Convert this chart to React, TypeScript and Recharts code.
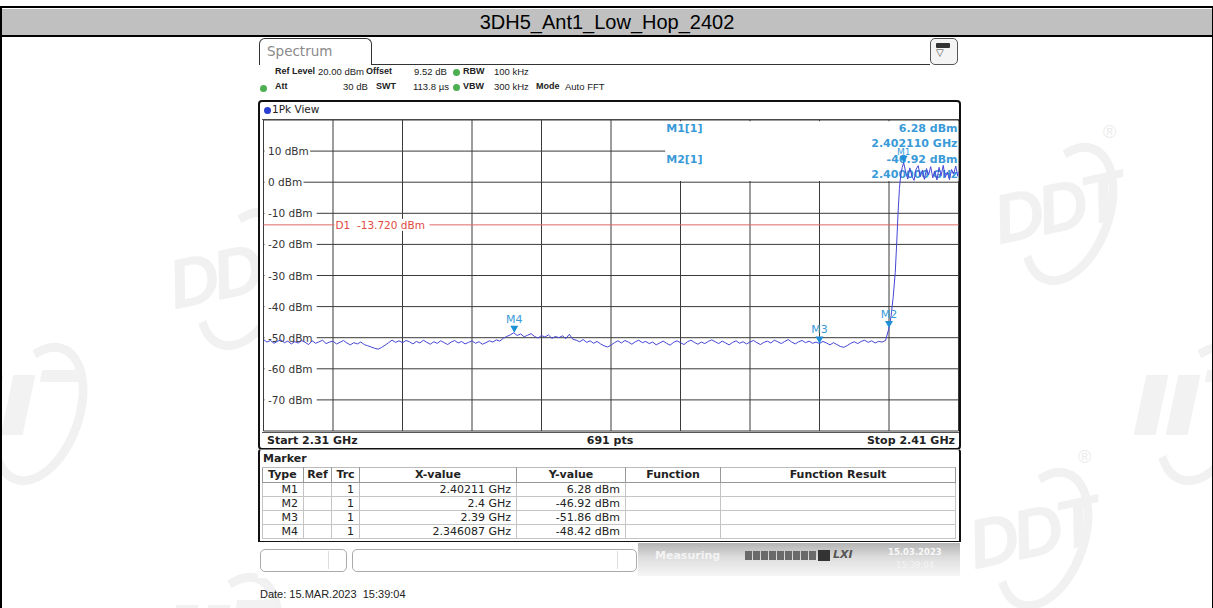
import React from 'react';
import {
  LineChart,
  Line,
  XAxis,
  YAxis,
  CartesianGrid,
  ReferenceLine,
  ReferenceDot,
  ReferenceArea,
} from 'recharts';

// ---------------- data ----------------
const chartTitle = '3DH5_Ant1_Low_Hop_2402';
const freqTicks = [2.31, 2.32, 2.33, 2.34, 2.35, 2.36, 2.37, 2.38, 2.39, 2.4, 2.41];
const levelTicks = [20, 10, 0, -10, -20, -30, -40, -50, -60, -70, -80];
const levelTickLabels = ['', '10 dBm', '0 dBm', '-10 dBm', '-20 dBm', '-30 dBm', '-40 dBm', '-50 dBm', '-60 dBm', '-70 dBm', ''];

const noiseStartGHz = 2.31;
const noiseStepGHz = 0.0005;
const noiseLevels = [
  -50.6, -51.4, -50.9, -51.8, -51.2, -50.7, -51.6, -51.1, -52.0, -51.3,
  -51.7, -50.9, -51.5, -52.2, -51.0, -51.8, -51.3, -50.8, -51.9, -51.4,
  -51.1, -52.0, -51.5, -50.9, -51.7, -52.3, -51.6, -52.0, -51.4, -52.2,
  -52.6, -53.0, -53.4, -53.7, -53.1, -52.4, -51.6, -50.8, -51.5, -51.0,
  -51.6, -50.9, -51.3, -52.0, -51.2, -51.7, -50.8, -51.5, -52.1, -51.3,
  -51.8, -51.0, -51.6, -52.2, -51.4, -50.9, -51.7, -51.2, -52.0, -51.5,
  -51.0, -51.8, -51.3, -52.1, -51.6, -51.0, -51.4, -50.7, -51.1, -50.2,
  -49.6, -49.1, -48.42, -49.3, -48.8, -49.7, -49.2, -48.7, -49.6, -50.1,
  -49.3, -49.8, -49.1, -50.2, -49.6, -50.0, -49.4, -50.3, -48.9, -50.5,
  -50.8, -51.3, -50.6, -51.5, -51.0, -51.8, -51.2, -52.0, -52.6, -53.0,
  -52.4, -51.6, -51.0, -51.7, -50.9, -51.4, -52.1, -51.3, -50.8, -51.6,
  -51.2, -51.9, -51.4, -52.3, -51.7, -51.1, -51.8, -52.4, -51.5, -51.0,
  -51.6, -52.2, -51.3, -50.8, -51.5, -52.1, -51.4, -51.9, -51.2, -50.7,
  -51.3, -51.9, -51.1, -51.7, -52.3, -51.5, -51.0, -51.8, -51.3, -52.0,
  -51.4, -50.9, -51.6, -52.2, -51.5, -51.1, -51.7, -50.8, -51.3, -51.9,
  -51.2, -50.6, -51.4, -52.0, -51.3, -50.9, -51.6, -51.1, -51.8, -51.4,
  -51.86, -51.2, -51.7, -52.3, -51.6, -52.2, -52.8, -53.1, -52.5, -51.8,
  -51.3, -51.9, -51.2, -50.8, -51.5, -51.0, -51.7, -51.2, -51.4, -50.9,
  -46.92,
];
const edgeFreqs = [
  2.4003, 2.4006, 2.4009, 2.4011, 2.4013, 2.4015, 2.4017, 2.4019, 2.40211, 2.4024,
  2.4027, 2.403, 2.4033, 2.4036, 2.4039, 2.4042, 2.4045, 2.4048, 2.4051, 2.4054,
  2.4057, 2.406, 2.4063, 2.4066, 2.4069, 2.4072, 2.4075, 2.4078, 2.4081, 2.4084,
  2.4087, 2.409, 2.4093, 2.4096, 2.4099, 2.41,
];
const edgeLevels = [
  -43, -37, -29, -20, -10, -2, 2.5, 4.8, 6.28, 3.2,
  1.0, 4.6, 2.0, 0.6, 4.2, 5.3, 1.8, 3.9, 0.9, 4.4,
  2.3, 5.0, 1.4, 3.6, 0.7, 4.8, 2.1, 5.4, 1.6, 3.3,
  0.8, 4.1, 2.6, 5.2, 1.9, 3.4,
];

const markerNames = ['M1', 'M2', 'M3', 'M4'];
const markerFreqs = [2.40211, 2.4, 2.39, 2.346087];
const markerLevels = [6.28, -46.92, -51.86, -48.42];
const markerXText = ['2.40211 GHz', '2.4 GHz', '2.39 GHz', '2.346087 GHz'];
const markerYText = ['6.28 dBm', '-46.92 dBm', '-51.86 dBm', '-48.42 dBm'];
const markerRef = ['', '', '', ''];
const markerTrc = ['1', '1', '1', '1'];
const tableHeaders = ['Type', 'Ref', 'Trc', 'X-value', 'Y-value', 'Function', 'Function Result'];

const displayLineLevel = -13.72;
const displayLineLabel = 'D1  -13.720 dBm';

// marker info box covers this part of the grid (data units)
const infoBoxFreq = [2.3678, 2.41];
const infoBoxLevel = [0.4, 19.6];

const headerRow1 = [
  { t: 'Ref Level', b: true, x: 275 },
  { t: '20.00 dBm', b: false, x: 318 },
  { t: 'Offset', b: true, x: 366 },
  { t: '9.52 dB', b: false, x: 414 },
  { t: 'RBW', b: true, x: 463 },
  { t: '100 kHz', b: false, x: 494 },
];
const headerRow2 = [
  { t: 'Att', b: true, x: 275 },
  { t: '30 dB', b: false, x: 343 },
  { t: 'SWT', b: true, x: 376 },
  { t: '113.8 µs', b: false, x: 413 },
  { t: 'VBW', b: true, x: 463 },
  { t: '300 kHz', b: false, x: 494 },
  { t: 'Mode', b: true, x: 536 },
  { t: 'Auto FFT', b: false, x: 565 },
];

// faint logo watermarks; "full" ones carry lettering, edge ones only the ring
const watermarks = [
  { x: 985, y: 130, full: true },
  { x: 960, y: 455, full: true },
  { x: 160, y: 195, full: true },
  { x: 1120, y: 330, full: false },
  { x: -45, y: 330, full: false },
  { x: 150, y: 560, full: false },
];

// ---------------- layout ----------------
const W = 1213;
const H = 608;
const MARGIN = { top: 120, right: 254.5, bottom: 177, left: 263.5 };
const UI_FONT = '"DejaVu Sans", Verdana, sans-serif';
const HDR_FONT = '"Liberation Sans", Arial, sans-serif';
const TITLE_FONT = '"Liberation Sans Narrow", "Liberation Sans", Arial, sans-serif';
const MARKER_BLUE = '#3a9ad8';
const GRID = '#3a3a3a';

const traceData = [
  ...noiseLevels.map((level, i) => ({ f: Number((noiseStartGHz + i * noiseStepGHz).toFixed(5)), level })),
  ...edgeFreqs.map((f, i) => ({ f, level: edgeLevels[i] })),
];

const NoTick = () => <g />;

const LevelLabel = (props: any) => {
  const vb = props.viewBox || {};
  const label = props.text as string;
  const x0 = vb.x + 1;
  const y = vb.y;
  return (
    <g>
      <rect x={x0} y={y - 6} width={label.length * 6.6 + 6} height={12} fill="#fff" />
      <text x={x0 + 3.5} y={y + 4} fontSize={10.5} fill="#333" fontFamily={UI_FONT}>
        {label}
      </text>
    </g>
  );
};

const D1Label = (props: any) => {
  const vb = props.viewBox || {};
  const x = vb.x + vb.width * 0.1 + 1.5;
  return (
    <g>
      <rect x={x} y={vb.y - 6} width={95} height={12} fill="#fff" />
      <text x={x + 1} y={vb.y + 4} fontSize={10.5} fill="#e04a42" fontFamily={UI_FONT} style={{ whiteSpace: 'pre' }}>
        {displayLineLabel}
      </text>
    </g>
  );
};

const MarkerInfo = (props: any) => {
  const vb = props.viewBox || {};
  const x = vb.x + 1;
  const r = vb.x + vb.width - 1;
  const y = vb.y;
  return (
    <g fontFamily={UI_FONT} fontSize={11} fontWeight="bold" fill={MARKER_BLUE}>
      <text x={x} y={y + 11}>{`${markerNames[0]}[1]`}</text>
      <text x={r} y={y + 11} textAnchor="end">{`${markerLevels[0].toFixed(2)} dBm`}</text>
      <text x={r} y={y + 26} textAnchor="end">{`${markerFreqs[0].toFixed(6)} GHz`}</text>
      <text x={x} y={y + 42}>{`${markerNames[1]}[1]`}</text>
      <text x={r} y={y + 42} textAnchor="end">{`${markerLevels[1].toFixed(2)} dBm`}</text>
      <text x={r} y={y + 57} textAnchor="end">{`${markerFreqs[1].toFixed(6)} GHz`}</text>
    </g>
  );
};

const markerShape = (name: string) => (props: any) => {
  const { cx, cy } = props;
  const small = name === 'M1';
  return (
    <g>
      <polygon points={`${cx - 4},${cy - 7} ${cx + 4},${cy - 7} ${cx},${cy}`} fill="#1f8fd6" />
      <text
        x={cx}
        y={cy - (small ? 8 : 10)}
        textAnchor="middle"
        fontSize={small ? 9 : 11}
        fill={MARKER_BLUE}
        fontFamily={UI_FONT}
      >
        {name}
      </text>
    </g>
  );
};

const abs = (s: React.CSSProperties): React.CSSProperties => ({ position: 'absolute', ...s });

const Dot = ({ x, y, c }: { x: number; y: number; c: string }) => (
  <div style={abs({ left: x - 3.5, top: y - 3.5, width: 7, height: 7, borderRadius: 4, background: c })} />
);

const Watermark = ({ x, y, full }: { x: number; y: number; full: boolean }) => (
  <div style={abs({ left: x, top: y, width: 150, height: 150 })}>
    <div
      style={abs({
        left: 40,
        top: 10,
        width: 70,
        height: 130,
        borderRadius: '50%',
        border: '9px solid #f1f1f1',
        borderLeftColor: 'transparent',
        transform: 'rotate(20deg)',
      })}
    />
    {full ? (
      <>
        <div
          style={abs({
            left: 8,
            top: 38,
            fontSize: 70,
            fontWeight: 'bold',
            fontStyle: 'italic',
            color: '#f1f1f1',
            fontFamily: HDR_FONT,
            transform: 'rotate(-12deg)',
            letterSpacing: -6,
          })}
        >
          DDT
        </div>
        <div style={abs({ left: 118, top: -8, fontSize: 18, color: '#ececec', fontFamily: HDR_FONT })}>®</div>
      </>
    ) : (
      <>
        <div style={abs({ left: 20, top: 45, width: 22, height: 60, background: '#f2f2f2', transform: 'skewX(-12deg)' })} />
        <div style={abs({ left: 52, top: 45, width: 22, height: 60, background: '#f2f2f2', transform: 'skewX(-12deg)' })} />
        <div style={abs({ left: 86, top: 40, width: 40, height: 12, background: '#f2f2f2', transform: 'skewX(-12deg)' })} />
      </>
    )}
  </div>
);

const colWidths = [41, 28, 28, 157, 109, 95, 235];

export default function App() {
  return (
    <div style={abs({ left: 0, top: 0, width: W, height: H, background: '#fff', overflow: 'hidden', fontFamily: UI_FONT })}>
      {watermarks.map((w, i) => (
        <Watermark key={'wm' + i} x={w.x} y={w.y} full={w.full} />
      ))}

      {/* outer frame & title */}
      <div style={abs({ left: 0, top: 6, width: W, height: 2, background: '#000' })} />
      <div style={abs({ left: 0, top: 6, width: 2, height: H, background: '#000' })} />
      <div style={abs({ left: W - 1, top: 6, width: 1, height: H, background: '#000' })} />
      <div
        style={abs({
          left: 2,
          top: 9,
          width: W - 3,
          height: 26,
          background: '#c0c0c0',
          borderBottom: '2px solid #000',
          textAlign: 'center',
          fontFamily: TITLE_FONT,
          fontSize: 20,
          lineHeight: '26px',
          color: '#000',
        })}
      >
        {chartTitle}
      </div>

      {/* Spectrum tab */}
      <div
        style={abs({
          left: 259,
          top: 38,
          width: 111,
          height: 27,
          border: '1.5px solid #333',
          borderBottom: 'none',
          borderRadius: '6px 6px 0 0',
          background: '#fff',
        })}
      />
      <div style={abs({ left: 267, top: 43, fontSize: 13.5, color: '#8a8a8a' })}>Spectrum</div>
      <div style={abs({ left: 372, top: 64, width: 558, height: 1.5, background: '#333' })} />
      <div style={abs({ left: 259, top: 65, width: 700, height: 35, background: '#fff' })} />
      <div
        style={abs({
          left: 930,
          top: 38,
          width: 26,
          height: 25,
          border: '1.5px solid #555',
          borderRadius: 5,
          background: '#f4f4f4',
        })}
      />
      <div style={abs({ left: 936, top: 43, width: 14, height: 5, background: '#333', borderRadius: 1 })} />
      <div style={abs({ left: 936, top: 47, fontSize: 10, color: '#444' })}>▽</div>

      {/* header rows */}
      {headerRow1.map((h, i) => (
        <div key={'h1' + i} style={abs({ left: h.x, top: 66, fontSize: h.b ? 9 : 9.5, fontFamily: HDR_FONT, fontWeight: h.b ? 'bold' : 'normal', color: '#222', whiteSpace: 'nowrap' })}>
          {h.t}
        </div>
      ))}
      {headerRow2.map((h, i) => (
        <div key={'h2' + i} style={abs({ left: h.x, top: 81, fontSize: h.b ? 9 : 9.5, fontFamily: HDR_FONT, fontWeight: h.b ? 'bold' : 'normal', color: '#222', whiteSpace: 'nowrap' })}>
          {h.t}
        </div>
      ))}
      <Dot x={263} y={88} c="#4caf50" />
      <Dot x={456} y={72} c="#4caf50" />
      <Dot x={456} y={87} c="#4caf50" />

      {/* trace panel */}
      <div
        style={abs({
          left: 258,
          top: 100,
          width: 699,
          height: 346,
          border: '2px solid #111',
          borderRadius: 4,
          background: '#fff',
        })}
      />
      <Dot x={267} y={110} c="#2a3fd0" />
      <div style={abs({ left: 272, top: 103, fontSize: 10.5, color: '#222' })}>1Pk View</div>
      <div style={abs({ left: 262, top: 118.5, width: 697, height: 1, background: '#555' })} />
      <div style={abs({ left: 262, top: 432, width: 697, height: 1, background: '#555' })} />
      <div style={abs({ left: 267, top: 434, fontSize: 11, fontWeight: 'bold', color: '#222' })}>Start 2.31 GHz</div>
      <div style={abs({ left: 560, width: 100, top: 434, fontSize: 11, fontWeight: 'bold', color: '#222', textAlign: 'center' })}>691 pts</div>
      <div style={abs({ left: 800, width: 155, top: 434, fontSize: 11, fontWeight: 'bold', color: '#222', textAlign: 'right' })}>Stop 2.41 GHz</div>

      {/* marker panel */}
      <div
        style={abs({
          left: 258,
          top: 449,
          width: 699,
          height: 91,
          border: '2px solid #111',
          borderTop: '1px solid #888',
          borderRadius: '3px 3px 0 0',
          background: '#fff',
        })}
      />
      <div style={abs({ left: 263, top: 452, fontSize: 11, fontWeight: 'bold', color: '#222' })}>Marker</div>
      <table
        style={abs({
          left: 262,
          top: 467,
          width: 693,
          borderCollapse: 'collapse',
          tableLayout: 'fixed',
          fontSize: 11,
          color: '#222',
          fontFamily: UI_FONT,
        })}
      >
        <colgroup>
          {colWidths.map((w, i) => (
            <col key={i} style={{ width: w }} />
          ))}
        </colgroup>
        <thead>
          <tr style={{ height: 15 }}>
            {tableHeaders.map((h, i) => (
              <th
                key={h}
                style={{
                  border: '1px solid #999',
                  borderTop: '1px solid #bbb',
                  padding: 0,
                  fontWeight: 'bold',
                  textAlign: i === 0 ? 'left' : 'center',
                  paddingLeft: i === 0 ? 5 : 0,
                  lineHeight: '14px',
                  whiteSpace: 'nowrap',
                }}
              >
                {h}
              </th>
            ))}
          </tr>
        </thead>
        <tbody>
          {markerNames.map((m, r) => {
            const cells = [m, markerRef[r], markerTrc[r], markerXText[r], markerYText[r], '', ''];
            return (
              <tr key={m} style={{ height: 14 }}>
                {cells.map((c, i) => (
                  <td
                    key={i}
                    style={{
                      border: '1px solid #c4c4c4',
                      padding: '0 5px 0 0',
                      textAlign: 'right',
                      lineHeight: '13px',
                      fontWeight: 'normal',
                      whiteSpace: 'nowrap',
                    }}
                  >
                    {c}
                  </td>
                ))}
              </tr>
            );
          })}
        </tbody>
      </table>

      {/* status bar */}
      <div style={abs({ left: 258, top: 542, width: 703, height: 36, background: '#fff' })} />
      <div style={abs({ left: 260, top: 549, width: 85, height: 21, border: '1px solid #aaa', borderRadius: 5, background: '#fff' })} />
      <div style={abs({ left: 328, top: 551, width: 1, height: 18, background: '#ddd' })} />
      <div style={abs({ left: 352, top: 549, width: 283, height: 21, border: '1px solid #aaa', borderRadius: 5, background: '#fff' })} />
      <div style={abs({ left: 617, top: 551, width: 1, height: 18, background: '#ddd' })} />
      <div
        style={abs({
          left: 638,
          top: 543,
          width: 322,
          height: 33,
          background: 'linear-gradient(to bottom, #b4b4b4 0%, #dedede 45%, #f6f6f6 100%)',
        })}
      />
      <div style={abs({ left: 655, top: 549, fontSize: 11, fontWeight: 'bold', color: '#f4f4f4' })}>Measuring</div>
      {[0, 1, 2, 3, 4, 5, 6, 7, 8].map((i) => (
        <div key={'pb' + i} style={abs({ left: 745 + i * 8, top: 551, width: 7, height: 9, background: '#6a6a6a' })} />
      ))}
      <div style={abs({ left: 818, top: 550, width: 12, height: 11, background: '#333' })} />
      <div style={abs({ left: 833, top: 548, fontSize: 11, fontStyle: 'italic', fontWeight: 'bold', color: '#555' })}>LXI</div>
      <div style={abs({ left: 888, top: 547, fontSize: 8.5, fontWeight: 'bold', color: '#f8f8f8' })}>15.03.2023</div>
      <div style={abs({ left: 896, top: 560, fontSize: 8.5, color: '#f4f4f4' })}>15:39:04</div>

      <div style={abs({ left: 260, top: 588, fontSize: 11, fontFamily: HDR_FONT, color: '#222', whiteSpace: 'pre' })}>
        Date: 15.MAR.2023  15:39:04
      </div>

      {/* chart */}
      <div style={abs({ left: 0, top: 0 })}>
        <LineChart width={W} height={H} data={traceData} margin={MARGIN}>
          <CartesianGrid stroke={GRID} strokeWidth={1} />
          <XAxis
            dataKey="f"
            type="number"
            domain={[2.31, 2.41]}
            ticks={freqTicks}
            tick={<NoTick />}
            axisLine={false}
            tickLine={false}
            height={0}
            interval={0}
            allowDataOverflow
          />
          <YAxis
            type="number"
            domain={[-80, 20]}
            ticks={levelTicks}
            tick={<NoTick />}
            axisLine={false}
            tickLine={false}
            width={0}
            interval={0}
            allowDataOverflow
          />
          <ReferenceArea
            x1={infoBoxFreq[0]}
            x2={infoBoxFreq[1]}
            y1={infoBoxLevel[0]}
            y2={infoBoxLevel[1]}
            fill="#fff"
            fillOpacity={1}
            stroke="none"
            label={(p: any) => <MarkerInfo {...p} />}
          />
          {levelTicks.map((v, i) =>
            levelTickLabels[i] ? (
              <ReferenceLine
                key={'l' + v}
                y={v}
                stroke="none"
                strokeWidth={0}
                label={(p: any) => <LevelLabel {...p} text={levelTickLabels[i]} />}
              />
            ) : null
          )}
          <ReferenceLine y={displayLineLevel} stroke="#e06a66" strokeWidth={1} label={(p: any) => <D1Label {...p} />} />
          <Line
            type="linear"
            dataKey="level"
            stroke="#4646d6"
            strokeWidth={1}
            dot={false}
            activeDot={false}
            isAnimationActive={false}
          />
          {markerNames.map((n, i) => (
            <ReferenceDot key={n} x={markerFreqs[i]} y={markerLevels[i]} r={4} shape={markerShape(n)} />
          ))}
        </LineChart>
      </div>
    </div>
  );
}
